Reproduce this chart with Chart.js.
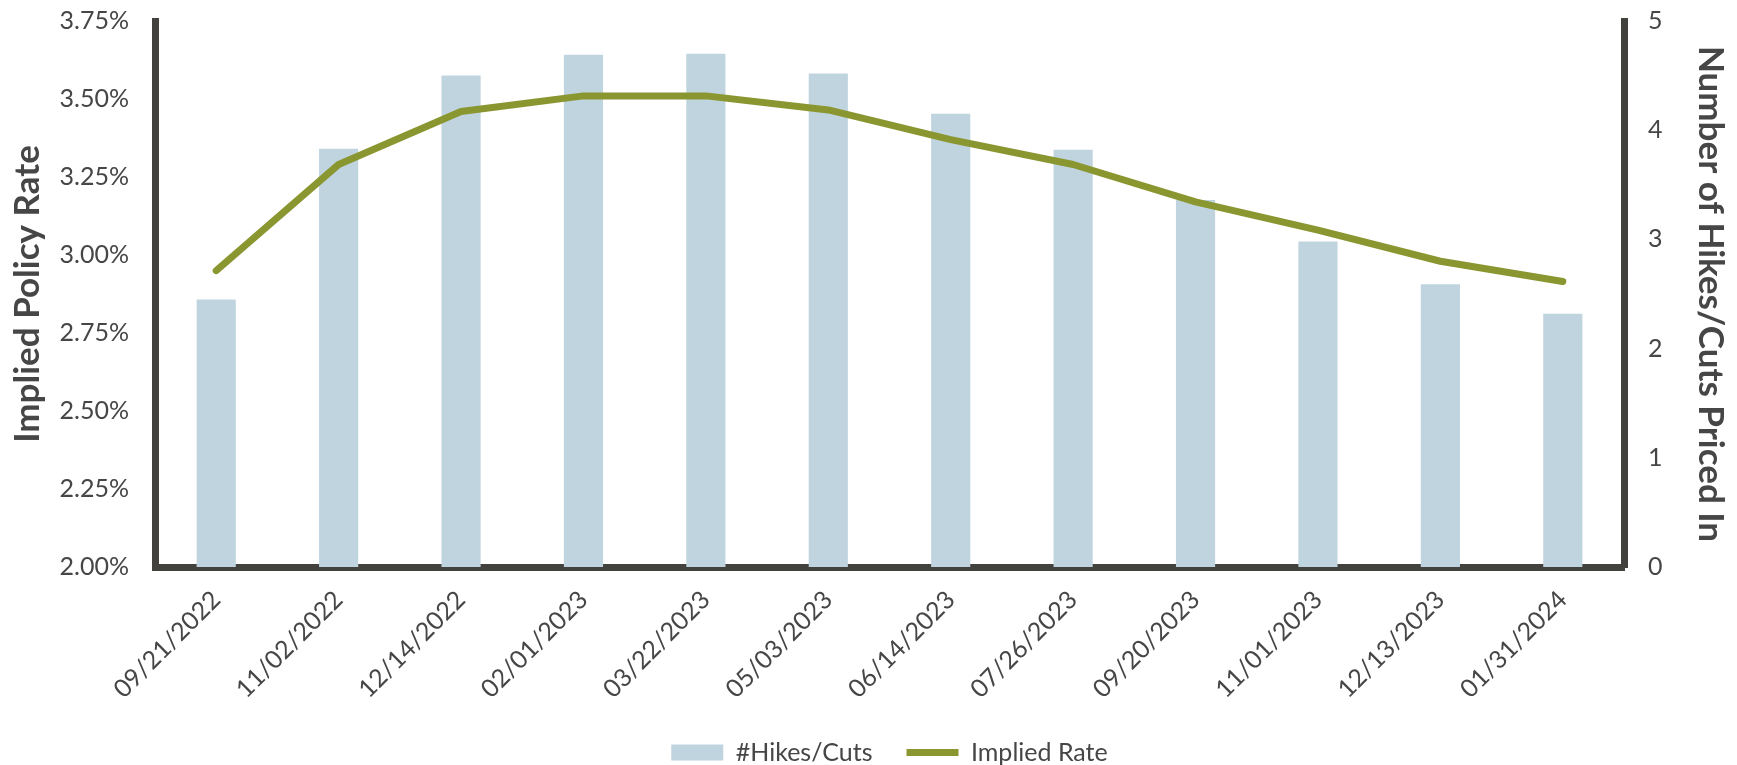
<!DOCTYPE html>
<html>
<head>
<meta charset="utf-8">
<script src="https://cdn.jsdelivr.net/npm/chart.js@4"></script>
<style>
  html, body { margin: 0; padding: 0; background: #fff; }
  #wrap { width: 1737px; height: 765px; }
</style>
</head>
<body>
<div id="wrap"><canvas id="chart" width="1737" height="765"></canvas></div>
<script>
// meeting dates
const dates = ['09/21/2022', '11/02/2022', '12/14/2022', '02/01/2023', '03/22/2023', '05/03/2023',
  '06/14/2023', '07/26/2023', '09/20/2023', '11/01/2023', '12/13/2023', '01/31/2024'];
// number of hikes/cuts priced in (right axis)
const hikesCuts = [2.45, 3.83, 4.50, 4.69, 4.70, 4.52, 4.15, 3.82, 3.36, 2.98, 2.59, 2.32];
// implied policy rate, % (left axis)
const impliedRate = [2.95, 3.29, 3.46, 3.51, 3.51, 3.465, 3.37, 3.29, 3.17, 3.08, 2.98, 2.915];

const axisColor = '#42413d';
const textColor = '#464646';
const fontFamily = 'Lato, "Noto Sans", sans-serif';

Chart.defaults.font.family = fontFamily;
Chart.defaults.color = textColor;

const ctx = document.getElementById('chart').getContext('2d');
new Chart(ctx, {
    type: 'bar',
    data: {
        labels: dates,
        datasets: [{
            type: 'line',
            label: 'Implied Rate',
            data: impliedRate,
            yAxisID: 'y',
            borderColor: '#8a9630',
            backgroundColor: '#8a9630',
            borderWidth: 7,
            borderCapStyle: 'round',
            borderJoinStyle: 'round',
            pointRadius: 0,
            pointStyle: 'line',
            tension: 0
        }, {
            label: '#Hikes/Cuts',
            data: hikesCuts,
            yAxisID: 'y1',
            backgroundColor: '#c0d4df',
            borderWidth: 0,
            pointStyle: 'rect',
            categoryPercentage: 1,
            barPercentage: 0.32
        }]
    },
    options: {
        responsive: false,
        animation: false,
        layout: { padding: { top: 0, left: 0, right: 0, bottom: -10 } },
        plugins: {
            tooltip: { enabled: false },
            legend: {
                position: 'bottom',
                fullSize: false,
                labels: {
                    usePointStyle: true,
                    pointStyleWidth: 52,
                    boxHeight: 16,
                    padding: 34,
                    color: textColor,
                    font: { size: 25 },
                    sort: (a, b) => b.datasetIndex - a.datasetIndex
                }
            }
        },
        scales: {
            x: {
                offset: true,
                grid: { display: false, drawTicks: false },
                border: { display: true, width: 7, color: axisColor },
                ticks: {
                    minRotation: 45,
                    maxRotation: 45,
                    padding: 18,
                    color: textColor,
                    font: { size: 25 }
                },
                afterFit: s => { s.height = 139; }
            },
            y: {
                position: 'left',
                min: 2,
                max: 3.75,
                grid: { display: false, drawTicks: false },
                border: { display: true, width: 7, color: axisColor },
                ticks: {
                    stepSize: 0.25,
                    padding: 26,
                    color: textColor,
                    font: { size: 25 },
                    callback: v => v.toFixed(2) + '%'
                },
                title: {
                    display: true,
                    text: 'Implied Policy Rate',
                    color: textColor,
                    font: { size: 35, weight: 'bold' },
                    padding: { top: 7, bottom: 0 }
                },
                afterFit: s => { s.width = 155; s.paddingTop = 21; }
            },
            y1: {
                position: 'right',
                min: 0,
                max: 5,
                grid: { display: false, drawTicks: false },
                border: { display: true, width: 7, color: axisColor },
                ticks: {
                    stepSize: 1,
                    padding: 24,
                    color: textColor,
                    font: { size: 25 }
                },
                title: {
                    display: true,
                    text: 'Number of Hikes/Cuts Priced In',
                    color: textColor,
                    font: { size: 35, weight: 'bold' },
                    padding: { top: 6, bottom: 0 }
                },
                afterFit: s => { s.width = 113; s.paddingTop = 21; }
            }
        }
    }
});
</script>
</body>
</html>
